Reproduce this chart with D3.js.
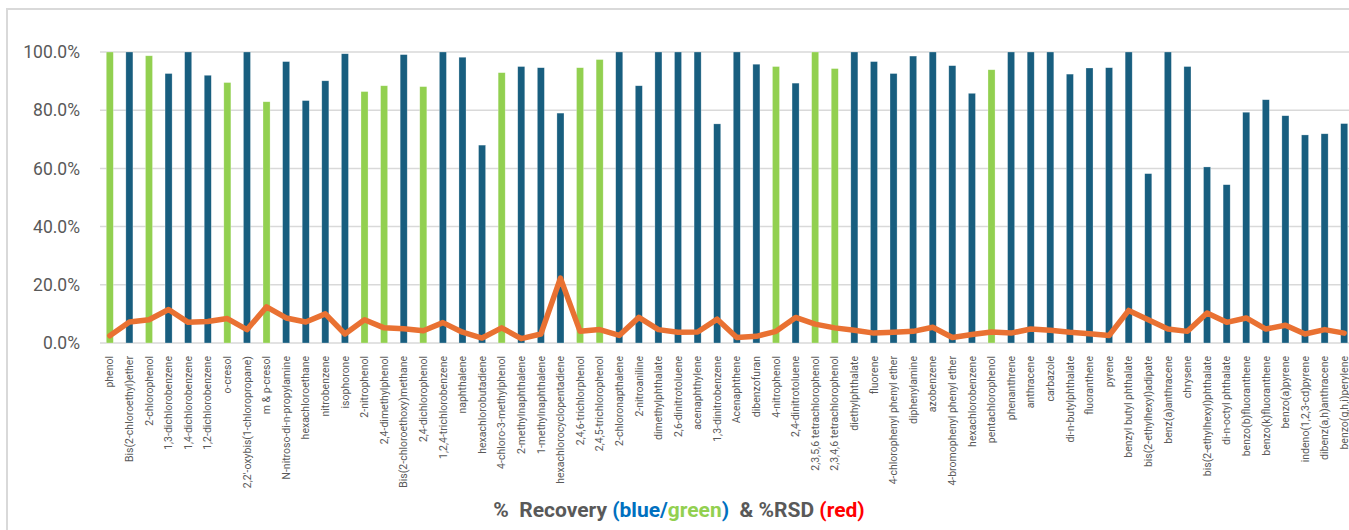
<!DOCTYPE html>
<html>
<head>
<meta charset="utf-8">
<script src="https://cdn.jsdelivr.net/npm/d3@7"></script>
<style>
  html, body { margin: 0; padding: 0; background: #fff; }
  svg { display: block; font-family: Roboto, "Noto Sans", sans-serif; }
</style>
</head>
<body>
<svg id="chart" width="1349" height="530"></svg>
<script>
const categories = [
  "phenol", "Bis(2-chloroethyl)ether", "2-chlorophenol", "1,3-dichlorobenzene", "1,4-dichlorobenzene",
  "1,2-dichlorobenzene", "o-cresol", "2,2'-oxybis(1-chloropropane)", "m & p-cresol", "N-nitroso-di-n-propylamine",
  "hexachloroethane", "nitrobenzene", "isophorone", "2-nitrophenol", "2,4-dimethylphenol",
  "Bis(2-chloroethoxy)methane", "2,4-dichlorophenol", "1,2,4-trichlorobenzene", "naphthalene", "hexachlorobutadiene",
  "4-chloro-3-methylphenol", "2-methylnaphthalene", "1-methylnaphthalene", "hexachlorocyclopentadiene", "2,4,6-trichlorphenol",
  "2,4,5-trichlorophenol", "2-chloronapthalene", "2-nitroaniline", "dimethylphthalate", "2,6-dinitrotoluene",
  "acenaphthylene", "1,3-dinitrobenzene", "Acenaphthene", "dibenzofuran", "4-nitrophenol",
  "2,4-dinitrotoluene", "2,3,5,6 tetrachlorophenol", "2,3,4,6 tetrachlorophenol", "diethylphthalate", "fluorene",
  "4-chlorophenyl phenyl ether", "diphenylamine", "azobenzene", "4-bromophenyl phenyl ether", "hexachlorobenzene",
  "pentachlorophenol", "phenanthrene", "anthracene", "carbazole", "di-n-butylphthalate",
  "fluoranthene", "pyrene", "benzyl butyl phthalate", "bis(2-ethylhexyl)adipate", "benz(a)anthracene",
  "chrysene", "bis(2-ethylhexyl)phthalate", "di-n-octyl phthalate", "benzo(b)fluoranthene", "benzo(k)fluoranthene",
  "benzo(a)pyrene", "indeno(1,2,3-cd)pyrene", "dibenz(a,h)anthracene", "benzo(g,h,i)perylene"
];

// % recovery (fraction) (bars at the top are capped at 100%)
const recovery = [
  1.000, 1.000, 0.987, 0.926, 1.000, 0.920, 0.895, 1.000, 0.829, 0.967,
  0.833, 0.901, 0.994, 0.864, 0.884, 0.991, 0.881, 1.000, 0.982, 0.680,
  0.929, 0.950, 0.946, 0.790, 0.946, 0.974, 1.000, 0.884, 1.000, 1.000,
  1.000, 0.753, 1.000, 0.958, 0.950, 0.893, 1.000, 0.943, 1.000, 0.967,
  0.926, 0.986, 1.000, 0.953, 0.858, 0.939, 1.000, 1.000, 1.000, 0.924,
  0.945, 0.946, 1.000, 0.582, 1.000, 0.950, 0.605, 0.544, 0.793, 0.836,
  0.781, 0.715, 0.719, 0.754
];

// % RSD (fraction)
const rsd = [
  0.025, 0.072, 0.080, 0.115, 0.071, 0.074, 0.084, 0.046, 0.124, 0.086,
  0.072, 0.100, 0.031, 0.080, 0.052, 0.049, 0.042, 0.070, 0.037, 0.017,
  0.052, 0.015, 0.031, 0.223, 0.040, 0.046, 0.026, 0.088, 0.046, 0.037,
  0.038, 0.082, 0.019, 0.023, 0.040, 0.088, 0.065, 0.052, 0.044, 0.034,
  0.037, 0.040, 0.054, 0.019, 0.029, 0.038, 0.034, 0.048, 0.044, 0.037,
  0.032, 0.026, 0.112, 0.080, 0.048, 0.040, 0.103, 0.071, 0.086, 0.048,
  0.061, 0.031, 0.046, 0.034
];

// compound class: "acid" (phenols, green) or "bn" (base/neutral, blue)
const groups = [
  "acid", "bn", "acid", "bn", "bn", "bn", "acid", "bn", "acid", "bn",
  "bn", "bn", "bn", "acid", "acid", "bn", "acid", "bn", "bn", "bn",
  "acid", "bn", "bn", "bn", "acid", "acid", "bn", "bn", "bn", "bn",
  "bn", "bn", "bn", "bn", "acid", "bn", "acid", "acid", "bn", "bn",
  "bn", "bn", "bn", "bn", "bn", "acid", "bn", "bn", "bn", "bn",
  "bn", "bn", "bn", "bn", "bn", "bn", "bn", "bn", "bn", "bn",
  "bn", "bn", "bn", "bn"
];

const yTicks = [0, 0.2, 0.4, 0.6, 0.8, 1.0];

const data = categories.map((c, i) => ({ name: c, rec: recovery[i], rsd: rsd[i], group: groups[i] }));

const svg = d3.select("#chart");

// chart frame
svg.append("rect")
  .attr("x", 7).attr("y", 9)
  .attr("width", 1400).attr("height", 560)
  .attr("fill", "none")
  .attr("stroke", "#d9d9d9")
  .attr("stroke-width", 2);

const x = d3.scaleBand()
  .domain(categories)
  .range([100, 1354])
  .paddingInner(0.64)
  .paddingOuter(0.32);

const y = d3.scaleLinear().domain([0, 1]).range([343, 52]);

const color = d3.scaleOrdinal().domain(["acid", "bn"]).range(["#92D050", "#185E7F"]);

// gridlines
svg.append("g")
  .selectAll("line")
  .data(yTicks)
  .join("line")
  .attr("x1", 100).attr("x2", 1349)
  .attr("y1", d => y(d)).attr("y2", d => y(d))
  .attr("stroke", "#d9d9d9")
  .attr("stroke-width", 1.5);

// y axis labels
const yAxis = d3.axisLeft(y).tickValues(yTicks).tickFormat(d3.format(".1%")).tickSize(0).tickPadding(0);
const yg = svg.append("g").attr("transform", "translate(80,0)").call(yAxis);
yg.select(".domain").remove();
yg.selectAll("text")
  .attr("fill", "#595959")
  .style("font-size", "17.5px")
  .style("font-family", "Roboto, sans-serif");

// bars
svg.append("g")
  .selectAll("rect")
  .data(data)
  .join("rect")
  .attr("x", d => x(d.name))
  .attr("width", x.bandwidth())
  .attr("y", d => y(d.rec))
  .attr("height", d => y(0) - y(d.rec))
  .attr("fill", d => color(d.group))
  .attr("stroke", "rgba(255,255,255,0.45)")
  .attr("stroke-width", 0.6);

// RSD line
const line = d3.line()
  .x(d => x(d.name) + x.bandwidth() / 2)
  .y(d => y(d.rsd));

svg.append("path")
  .datum(data)
  .attr("d", line)
  .attr("fill", "none")
  .attr("stroke", "#E97132")
  .attr("stroke-width", 5.5)
  .attr("stroke-linejoin", "round")
  .attr("stroke-linecap", "round");

// category labels
const xAxis = d3.axisBottom(x).tickSize(0).tickPadding(0);
const xg = svg.append("g").attr("transform", "translate(0,356)").call(xAxis);
xg.select(".domain").remove();
xg.selectAll("text")
  .attr("transform", "rotate(-90)")
  .attr("x", 0)
  .attr("y", 0)
  .attr("dy", "0.35em")
  .attr("text-anchor", "end")
  .attr("fill", "#595959")
  .style("font-size", "10.5px")
  .style("font-family", "Roboto, sans-serif");

// title
const title = svg.append("text")
  .attr("x", 679)
  .attr("y", 517)
  .attr("text-anchor", "middle")
  .style("font-size", "21px")
  .style("font-weight", "bold")
  .style("white-space", "pre")
  .attr("xml:space", "preserve");

const parts = [
  ["%  Recovery ", "#595959"],
  ["(blue/", "#0070C0"],
  ["green", "#92D050"],
  [")", "#0070C0"],
  ["  & %RSD ", "#595959"],
  ["(red)", "#FF0000"]
];
title.selectAll("tspan")
  .data(parts)
  .join("tspan")
  .attr("fill", d => d[1])
  .text(d => d[0]);
</script>
</body>
</html>
